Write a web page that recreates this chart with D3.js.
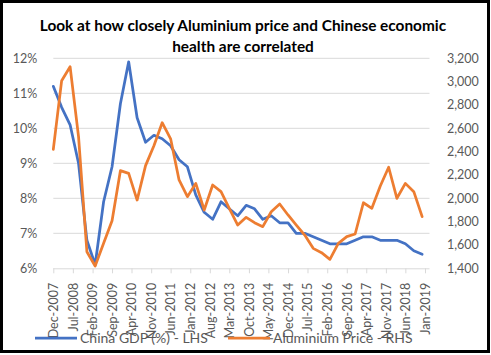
<!DOCTYPE html>
<html>
<head>
<meta charset="utf-8">
<script src="https://cdn.jsdelivr.net/npm/d3@7"></script>
<style>
  html, body { margin: 0; padding: 0; background: #fff; }
  svg { display: block; }
  text { font-family: Lato, "Open Sans", sans-serif; }
</style>
</head>
<body>
<svg id="chart" width="491" height="355"></svg>
<script>
// ---- data ----
const quarters = [
  "Dec-2007","Mar-2008","Jun-2008","Sep-2008","Dec-2008","Mar-2009","Jun-2009","Sep-2009","Dec-2009",
  "Mar-2010","Jun-2010","Sep-2010","Dec-2010","Mar-2011","Jun-2011","Sep-2011","Dec-2011",
  "Mar-2012","Jun-2012","Sep-2012","Dec-2012","Mar-2013","Jun-2013","Sep-2013","Dec-2013",
  "Mar-2014","Jun-2014","Sep-2014","Dec-2014","Mar-2015","Jun-2015","Sep-2015","Dec-2015",
  "Mar-2016","Jun-2016","Sep-2016","Dec-2016","Mar-2017","Jun-2017","Sep-2017","Dec-2017",
  "Mar-2018","Jun-2018","Sep-2018","Dec-2018"
];
const chinaGDP = [
  11.2, 10.6, 10.1, 9.0, 6.8, 6.1, 7.9, 8.9, 10.7,
  11.9, 10.3, 9.6, 9.8, 9.7, 9.5, 9.1, 8.9,
  8.1, 7.6, 7.4, 7.9, 7.7, 7.5, 7.8, 7.7,
  7.4, 7.5, 7.3, 7.3, 7.0, 7.0, 6.9, 6.8,
  6.7, 6.7, 6.7, 6.8, 6.9, 6.9, 6.8, 6.8,
  6.8, 6.7, 6.5, 6.4
];
const aluminiumPrice = [
  2420, 3008, 3128, 2528, 1542, 1420, 1614, 1808, 2237,
  2214, 1985, 2280, 2450, 2648, 2510, 2157, 2014,
  2128, 1900, 2114, 2057, 1914, 1771, 1837, 1791,
  1757, 1885, 1951, 1857, 1771, 1685, 1571, 1534,
  1477, 1614, 1671, 1694, 1962, 1914, 2105, 2266,
  2000, 2128, 2057, 1843
];
const xTickLabels = ["Dec-2007","Jul-2008","Feb-2009","Sep-2009","Apr-2010","Nov-2010","Jun-2011",
  "Jan-2012","Aug-2012","Mar-2013","Oct-2013","May-2014","Dec-2014","Jul-2015","Feb-2016",
  "Sep-2016","Apr-2017","Nov-2017","Jun-2018","Jan-2019"];
const leftTicks = [6, 7, 8, 9, 10, 11, 12];
const rightTicks = [1400, 1600, 1800, 2000, 2200, 2400, 2600, 2800, 3000, 3200];
const titleLines = ["Look at how closely Aluminium price and Chinese economic", "health are correlated"];
const seriesNames = ["China GDP (%) - LHS", "Aluminium Price - RHS"];
const colors = ["#4472C4", "#ED7D31"];

// ---- layout ----
const svg = d3.select("#chart");
const parse = d3.timeParse("%b-%Y");
const plotLeft = 53.3, plotRight = 429.5, plotTop = 58.3, plotBottom = 268.3;

svg.append("rect").attr("x", 0).attr("y", 0).attr("width", 491).attr("height", 355).attr("fill", "#fff");

const x = d3.scaleTime()
  .domain([parse("Dec-2007"), parse("Jan-2019")])
  .range([plotLeft, 425]);
const yL = d3.scaleLinear().domain([6, 12]).range([plotBottom, plotTop]);
const yR = d3.scaleLinear().domain([1400, 3200]).range([plotBottom, plotTop]);

// gridlines
svg.append("g").selectAll("line").data(leftTicks.slice(1)).join("line")
  .attr("x1", plotLeft).attr("x2", plotRight)
  .attr("y1", d => yL(d)).attr("y2", d => yL(d))
  .attr("stroke", "#d9d9d9").attr("stroke-width", 1);

// x axis
const xTickDates = xTickLabels.map(parse);
const xAxis = d3.axisBottom(x).tickValues(xTickDates).tickSize(5).tickSizeOuter(0)
  .tickFormat(d3.timeFormat("%b-%Y"));
const gx = svg.append("g").attr("transform", `translate(0,${plotBottom})`).call(xAxis);
gx.select(".domain").attr("stroke", "#d9d9d9").attr("d", `M${plotLeft},0.5H${plotRight}`);
gx.selectAll(".tick line").attr("stroke", "#d9d9d9");
gx.selectAll(".tick text")
  .attr("transform", "rotate(-90)")
  .attr("text-anchor", "end")
  .attr("x", -14.5).attr("y", 0).attr("dy", "0.35em")
  .attr("fill", "#595959").style("font-size", "12.5px").style("font-family", "Lato");

// left axis
const yAxisL = d3.axisLeft(yL).tickValues(leftTicks).tickSize(0).tickFormat(d => d + "%");
const gl = svg.append("g").attr("transform", `translate(${plotLeft - 12},0)`).call(yAxisL);
gl.select(".domain").remove();
gl.selectAll(".tick text").attr("fill", "#595959").style("font-size", "12.5px").style("font-family", "Lato").attr("x", -4);

// right axis
const yAxisR = d3.axisRight(yR).tickValues(rightTicks).tickSize(0).tickFormat(d3.format(","));
const gr = svg.append("g").attr("transform", `translate(443,0)`).call(yAxisR);
gr.select(".domain").remove();
gr.selectAll(".tick text").attr("fill", "#595959").style("font-size", "12.5px").style("font-family", "Lato").attr("x", 4);

// lines
const dates = quarters.map(parse);
const lineL = d3.line().x((d, i) => x(dates[i])).y(d => yL(d));
const lineR = d3.line().x((d, i) => x(dates[i])).y(d => yR(d));
svg.append("path").datum(chinaGDP).attr("d", lineL)
  .attr("fill", "none").attr("stroke", colors[0]).attr("stroke-width", 2.75)
  .attr("stroke-linejoin", "round").attr("stroke-linecap", "round");
svg.append("path").datum(aluminiumPrice).attr("d", lineR)
  .attr("fill", "none").attr("stroke", colors[1]).attr("stroke-width", 2.75)
  .attr("stroke-linejoin", "round").attr("stroke-linecap", "round");

// title
svg.append("g").selectAll("text").data(titleLines).join("text")
  .attr("x", 243).attr("y", (d, i) => 30.5 + i * 21.5)
  .attr("text-anchor", "middle")
  .style("font-weight", "bold").style("font-size", "15.4px").attr("fill", "#000")
  .text(d => d);

// legend
const legendX = [35, 228];
const lg = svg.append("g").selectAll("g").data(seriesNames).join("g")
  .attr("transform", (d, i) => `translate(${legendX[i]},338)`);
lg.append("line").attr("x1", 0).attr("x2", 42).attr("y1", 0).attr("y2", 0)
  .attr("stroke", (d, i) => colors[i]).attr("stroke-width", 2.75);
lg.append("text").attr("x", 45).attr("y", 0).attr("dy", "0.35em")
  .attr("fill", "#595959").style("font-size", "14px")
  .text(d => d);

// frame
svg.append("rect").attr("x", 1.5).attr("y", 1.5).attr("width", 487).attr("height", 350)
  .attr("fill", "none").attr("stroke", "#000").attr("stroke-width", 3);
</script>
</body>
</html>
